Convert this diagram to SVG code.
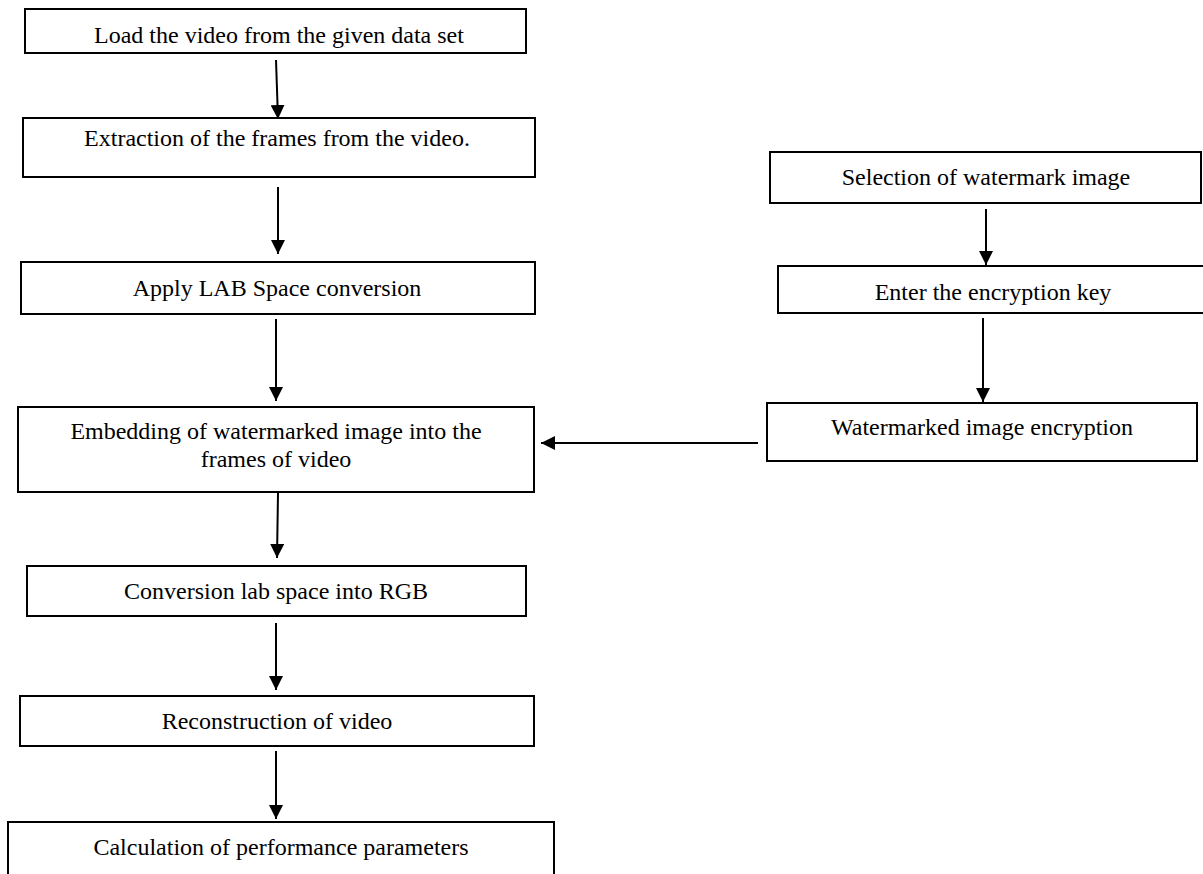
<svg xmlns="http://www.w3.org/2000/svg" width="1203" height="874" viewBox="0 0 1203 874">
<style>
.box{fill:#fff;stroke:#000;stroke-width:2}
.t{font-family:"Liberation Serif","Times New Roman",serif;font-size:24px;fill:#000;text-anchor:middle}
.c{stroke:#000;stroke-width:2;fill:none;marker-end:url(#ah)}
</style>
<defs>
<marker id="ah" markerUnits="userSpaceOnUse" markerWidth="14" markerHeight="14" viewBox="0 0 14 14" refX="14" refY="7" orient="auto">
<path d="M0,0 L14,7 L0,14 Z" fill="#000"/>
</marker>
<clipPath id="clip1"><rect x="25" y="9" width="502" height="40"/></clipPath>
</defs>
<rect width="1203" height="874" fill="#fff"/>
<g id="n1"><rect class="box" x="25" y="9" width="501" height="44"/><text class="t" x="279" y="43" clip-path="url(#clip1)">Load the video from the given data set</text></g>
<g id="n2"><rect class="box" x="23" y="118" width="512" height="59"/><text class="t" x="277" y="146">Extraction of the frames from the video.</text></g>
<g id="n3"><rect class="box" x="21" y="262" width="514" height="52"/><text class="t" x="277" y="296">Apply LAB Space conversion</text></g>
<g id="n4"><rect class="box" x="18" y="407" width="516" height="85"/><text class="t" x="276" y="439">Embedding of watermarked image into the</text><text class="t" x="276" y="467">frames of video</text></g>
<g id="n5"><rect class="box" x="27" y="566" width="499" height="50"/><text class="t" x="276" y="599">Conversion lab space into RGB</text></g>
<g id="n6"><rect class="box" x="20" y="696" width="514" height="50"/><text class="t" x="277" y="729">Reconstruction of video</text></g>
<g id="n7"><rect class="box" x="8" y="822" width="546" height="70"/><text class="t" x="281" y="855">Calculation of performance parameters</text></g>
<g id="r1"><rect class="box" x="770" y="152" width="431" height="51"/><text class="t" x="986" y="185">Selection of watermark image</text></g>
<g id="r2"><rect class="box" x="778" y="266" width="430" height="47"/><text class="t" x="993" y="300">Enter the encryption key</text></g>
<g id="r3"><rect class="box" x="767" y="403" width="430" height="58"/><text class="t" x="982" y="435">Watermarked image encryption</text></g>
<g id="connectors">
<line class="c" x1="276" y1="60" x2="278" y2="119"/>
<line class="c" x1="278" y1="187" x2="278" y2="254"/>
<line class="c" x1="276" y1="319" x2="276" y2="401"/>
<line class="c" x1="278" y1="493" x2="277" y2="558"/>
<line class="c" x1="276" y1="623" x2="276" y2="690"/>
<line class="c" x1="276" y1="751" x2="276" y2="819"/>
<line class="c" x1="986" y1="209" x2="986" y2="265"/>
<line class="c" x1="983" y1="318" x2="983" y2="402"/>
<line class="c" x1="758" y1="443" x2="541" y2="443"/>
</g>
</svg>
